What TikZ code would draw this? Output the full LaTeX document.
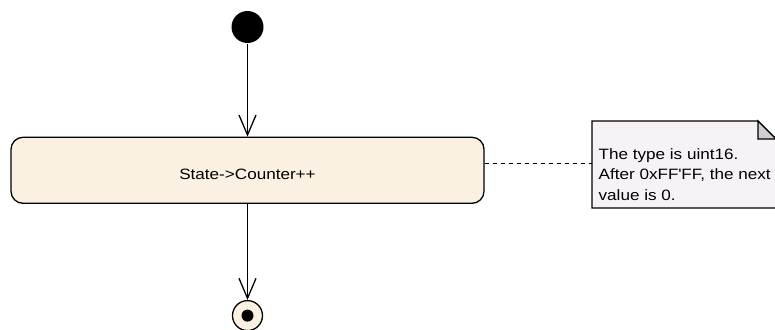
\documentclass[tikz,border=0pt]{standalone}
\usepackage{fontspec}
\setmainfont{Liberation Sans}[FakeStretch=1.14]
\usetikzlibrary{arrows.meta,positioning}

\definecolor{actfill}{RGB}{251,241,227}
\definecolor{notefill}{RGB}{247,242,246}
\definecolor{foldfill}{RGB}{208,208,212}

\begin{document}
\begin{tikzpicture}[%
    x=1pt, y=-1pt,                          % pixel-like units, top-down
    >={Straight Barb[length=20pt,width=17pt]}, % open UML arrow heads
    line width=1.3pt,
    font=\fontsize{15}{20.5}\selectfont,
    ]
% -------------------------------------------------
% Styles for the activity elements
\tikzset{
  init/.style={circle, fill=black, minimum size=32pt, inner sep=0pt},
  final/.style={circle, draw, fill=actfill, minimum size=30pt, inner sep=0pt,
    path picture={\fill[black] (path picture bounding box.center) circle (6pt);}},
  action/.style={draw, rounded corners=12pt, fill=actfill, minimum width=473pt,
    minimum height=66pt, text height=19pt, text depth=0pt},
  % Connector and note styles
  flow/.style={->, draw},
  notebox/.style={draw, fill=notefill},
  fold/.style={draw, fill=foldfill},
  link/.style={draw, line width=0.9pt, dash pattern=on 4pt off 4pt},
  notetext/.style={align=left, inner sep=0pt}
}
\useasboundingbox (0,0) rectangle (775,329);
% -------------------------------------------------
% Activity flow
\node [init] (start) at (247.5,27) {};
\node [action, below=93pt of start] (count) {State->Counter++};
\node [final, below=96pt of count] (final) {};

\draw [flow] (start) -- (count);
\draw [flow] (count) -- (final);

% -------------------------------------------------
% Note with folded corner
\coordinate (pin) at (592,163);
\draw [notebox] (592,121) -- (758,121) -- (776,139) -- (776,208) -- (592,208) -- cycle;
\draw [fold] (758,121) -- (758,139) -- (776,139) -- cycle;
\node [notetext, anchor=west] (note) at (598,174.3)
  {The type is uint16.\\After 0xFF\textquotesingle FF, the next\\value is 0.};
\draw [link] (count.east |- pin) -- (pin);
% -------------------------------------------------
\end{tikzpicture}
\end{document}
